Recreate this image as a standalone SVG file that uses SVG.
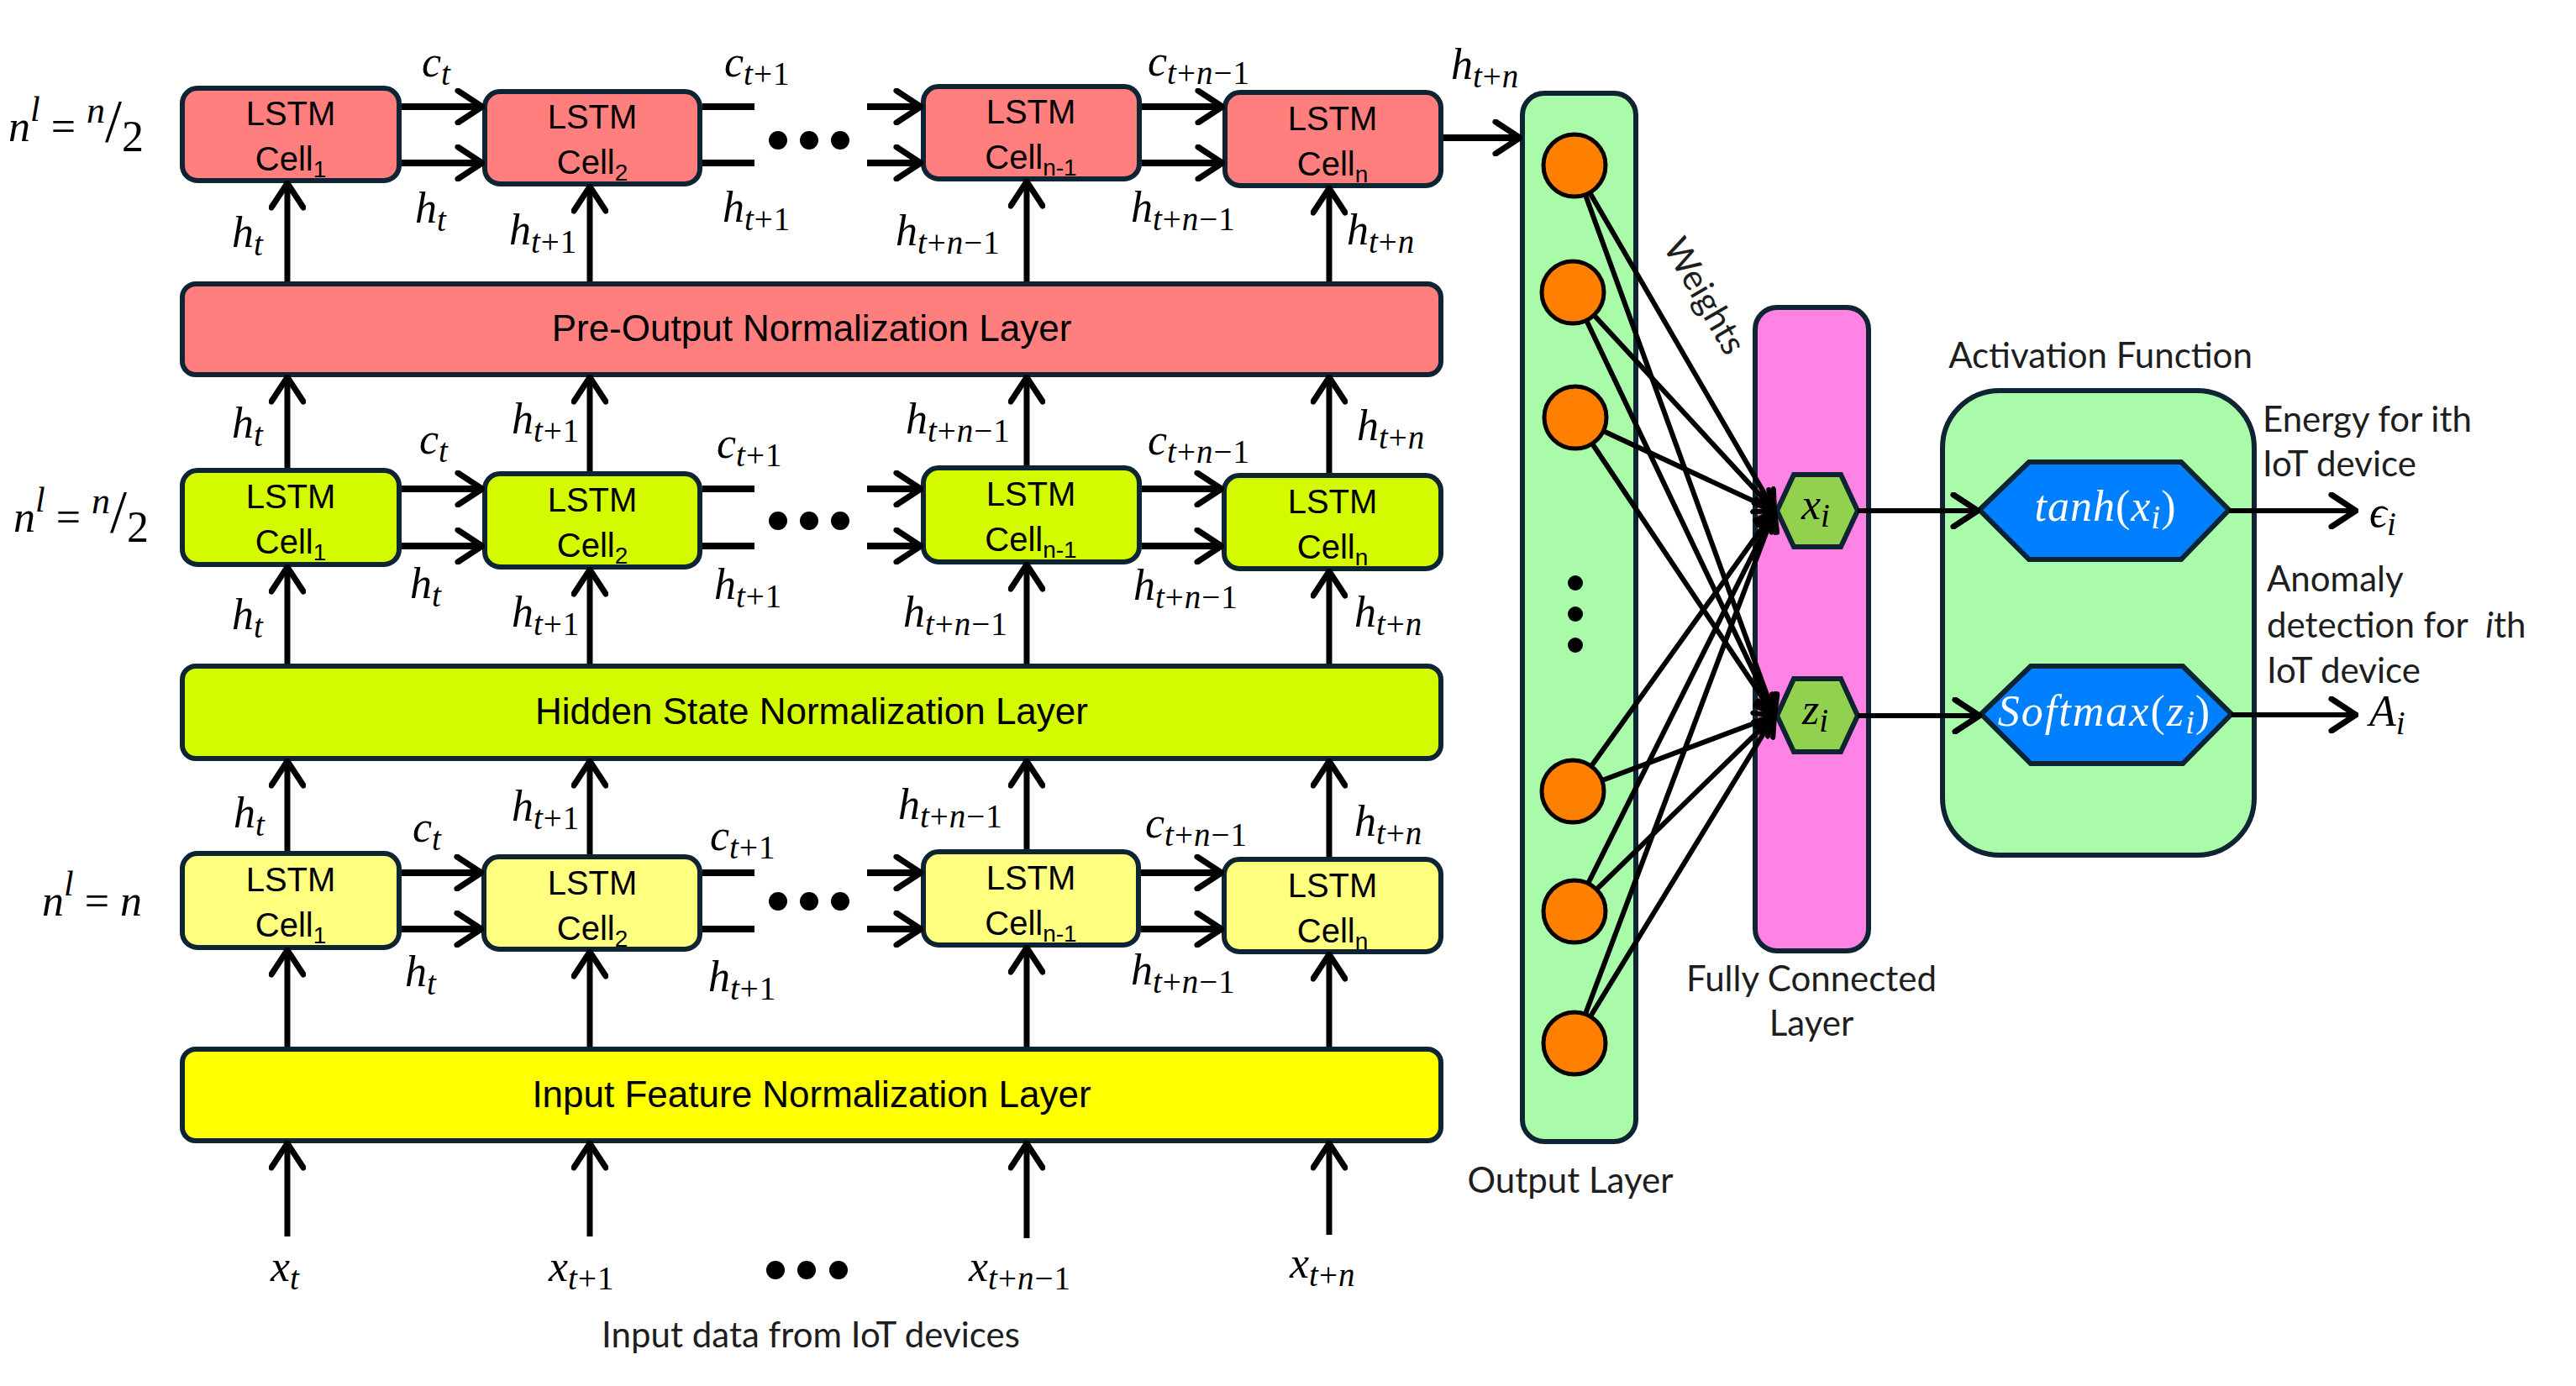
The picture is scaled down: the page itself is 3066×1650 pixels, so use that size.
<svg xmlns="http://www.w3.org/2000/svg" width="3066" height="1650" viewBox="0 0 3066 1650">
<defs>
<style>
.bx{stroke:#0E2433;stroke-width:6}
.red{fill:#FF7F7E}.lime{fill:#D4FA00}.ly{fill:#FFFF80}.yel{fill:#FFFF00}
.gr{fill:#A9FAA9}.pk{fill:#FF82E4}
.ct{font-family:"Liberation Sans",Arial,sans-serif;font-size:40px;text-anchor:middle;fill:#000}
.lt{font-family:"Liberation Sans",Arial,sans-serif;font-size:44px;text-anchor:middle;fill:#000}
.sb{font-size:28px}
.m{font-family:"Liberation Serif","Times New Roman",serif;font-style:italic;font-size:52px;fill:#000}
.s{font-size:39px;letter-spacing:1px}
.u{font-style:normal}
.lb{font-family:Lato,"Open Sans",sans-serif;font-size:42px;fill:#1E1E1E}
.ln{stroke:#000;stroke-width:7;fill:none}
.hz{stroke:#000;stroke-width:8;fill:none}
.w{stroke:#000;stroke-width:6;fill:none}
.dot{fill:#000}
</style>
<marker id="ah" viewBox="0 0 36 44" refX="33" refY="22" markerWidth="36" markerHeight="44" orient="auto" markerUnits="userSpaceOnUse">
<path d="M4,3 L33,22 L4,41" fill="none" stroke="#000" stroke-width="7" stroke-linecap="round"/>
</marker>
<marker id="as" viewBox="0 0 28 30" refX="26" refY="15" markerWidth="28" markerHeight="30" orient="auto" markerUnits="userSpaceOnUse">
<path d="M3,3 L26,15 L3,27" fill="none" stroke="#000" stroke-width="6" stroke-linecap="round"/>
</marker>
</defs>
<rect width="3066" height="1650" fill="#fff"/>

<!-- Top row (n/2) -->
<g id="top-cell1"><rect class="bx red" x="217" y="105" width="258" height="110" rx="18"/><text class="ct" x="346" y="149">LSTM</text><text class="ct" x="346" y="203">Cell<tspan class="sb" dy="8">1</tspan></text></g>
<g id="top-cell2"><rect class="bx red" x="577" y="109" width="256" height="110" rx="18"/><text class="ct" x="705" y="153">LSTM</text><text class="ct" x="705" y="207">Cell<tspan class="sb" dy="8">2</tspan></text></g>
<g id="top-celln1"><rect class="bx red" x="1099" y="103" width="257" height="110" rx="18"/><text class="ct" x="1227" y="147">LSTM</text><text class="ct" x="1227" y="201">Cell<tspan class="sb" dy="8">n-1</tspan></text></g>
<g id="top-celln"><rect class="bx red" x="1458" y="110" width="257" height="111" rx="18"/><text class="ct" x="1586" y="155">LSTM</text><text class="ct" x="1586" y="209">Cell<tspan class="sb" dy="8">n</tspan></text></g>
<g id="pre-output"><rect class="bx red" x="217" y="338" width="1498" height="108" rx="16"/><text class="lt" x="966" y="406">Pre-Output Normalization Layer</text></g>

<!-- Middle row -->
<g id="mid-cell1"><rect class="bx lime" x="217" y="560" width="258" height="112" rx="18"/><text class="ct" x="346" y="605">LSTM</text><text class="ct" x="346" y="659">Cell<tspan class="sb" dy="8">1</tspan></text></g>
<g id="mid-cell2"><rect class="bx lime" x="577" y="564" width="256" height="111" rx="18"/><text class="ct" x="705" y="609">LSTM</text><text class="ct" x="705" y="663">Cell<tspan class="sb" dy="8">2</tspan></text></g>
<g id="mid-celln1"><rect class="bx lime" x="1099" y="557" width="257" height="112" rx="18"/><text class="ct" x="1227" y="602">LSTM</text><text class="ct" x="1227" y="656">Cell<tspan class="sb" dy="8">n-1</tspan></text></g>
<g id="mid-celln"><rect class="bx lime" x="1457" y="566" width="258" height="111" rx="18"/><text class="ct" x="1586" y="611">LSTM</text><text class="ct" x="1586" y="665">Cell<tspan class="sb" dy="8">n</tspan></text></g>
<g id="hidden-state"><rect class="bx lime" x="217" y="793" width="1498" height="110" rx="16"/><text class="lt" x="966" y="862">Hidden State Normalization Layer</text></g>

<!-- Bottom row -->
<g id="bot-cell1"><rect class="bx ly" x="217" y="1016" width="258" height="112" rx="18"/><text class="ct" x="346" y="1061">LSTM</text><text class="ct" x="346" y="1115">Cell<tspan class="sb" dy="8">1</tspan></text></g>
<g id="bot-cell2"><rect class="bx ly" x="576" y="1020" width="257" height="110" rx="18"/><text class="ct" x="705" y="1065">LSTM</text><text class="ct" x="705" y="1119">Cell<tspan class="sb" dy="8">2</tspan></text></g>
<g id="bot-celln1"><rect class="bx ly" x="1099" y="1014" width="256" height="111" rx="18"/><text class="ct" x="1227" y="1059">LSTM</text><text class="ct" x="1227" y="1113">Cell<tspan class="sb" dy="8">n-1</tspan></text></g>
<g id="bot-celln"><rect class="bx ly" x="1457" y="1023" width="258" height="110" rx="18"/><text class="ct" x="1586" y="1068">LSTM</text><text class="ct" x="1586" y="1122">Cell<tspan class="sb" dy="8">n</tspan></text></g>
<g id="input-feature"><rect class="bx yel" x="217" y="1249" width="1498" height="109" rx="16"/><text class="lt" x="966" y="1318">Input Feature Normalization Layer</text></g>

<!-- Output layer -->
<g id="output-layer">
<rect class="bx gr" x="1812" y="111" width="135" height="1248" rx="26"/>
<circle cx="1874" cy="197" r="37" fill="#FF7F00" stroke="#000" stroke-width="5"/>
<circle cx="1872" cy="348" r="37" fill="#FF7F00" stroke="#000" stroke-width="5"/>
<circle cx="1875" cy="497" r="37" fill="#FF7F00" stroke="#000" stroke-width="5"/>
<circle cx="1872" cy="942" r="37" fill="#FF7F00" stroke="#000" stroke-width="5"/>
<circle cx="1874" cy="1085" r="37" fill="#FF7F00" stroke="#000" stroke-width="5"/>
<circle cx="1874" cy="1242" r="37" fill="#FF7F00" stroke="#000" stroke-width="5"/>
<circle class="dot" cx="1875" cy="694" r="9"/><circle class="dot" cx="1875" cy="731" r="9"/><circle class="dot" cx="1875" cy="768" r="9"/>
<text class="lb" x="1869" y="1420" text-anchor="middle">Output Layer</text>
</g>

<!-- Fully connected layer -->
<g id="fc-layer">
<rect class="bx pk" x="2089" y="366" width="135" height="766" rx="26"/>
<text class="lb" x="2156" y="1180" text-anchor="middle">Fully Connected</text>
<text class="lb" x="2156" y="1233" text-anchor="middle">Layer</text>
</g>
<g id="hex-xi"><polygon class="bx" fill="#92D050" points="2115,608 2135,565 2191,565 2211,608 2191,651 2135,651" stroke-width="5"/><text class="m" x="2144" y="618" font-size="48">x<tspan class="s" dy="9" font-size="35">i</tspan></text></g>
<g id="hex-zi"><polygon class="bx" fill="#92D050" points="2115,852 2135,808 2191,808 2211,852 2191,895 2135,895" stroke-width="5"/><text class="m" x="2145" y="862" font-size="48">z<tspan class="s" dy="9" font-size="35">i</tspan></text></g>

<!-- Activation function -->
<g id="activation">
<rect class="bx gr" x="2312" y="465" width="371" height="553" rx="68"/>
<text class="lb" x="2500" y="438" text-anchor="middle">Activation Function</text>
</g>
<g id="tanh"><polygon class="bx" fill="#0080FF" points="2356,607 2415,550 2596,550 2653,607 2596,666 2415,666" stroke-width="5"/><text class="m" x="2506" y="620" text-anchor="middle" style="fill:#fff" font-size="52" letter-spacing="1">tanh<tspan class="u">(</tspan>x<tspan class="s" dy="9">i</tspan><tspan class="u" dy="-9">)</tspan></text></g>
<g id="softmax"><polygon class="bx" fill="#0080FF" points="2358,850 2417,793 2598,793 2656,850 2598,909 2417,909" stroke-width="5"/><text class="m" x="2505" y="864" text-anchor="middle" style="fill:#fff" font-size="52" letter-spacing="2">Softmax<tspan class="u">(</tspan>z<tspan class="s" dy="9">i</tspan><tspan class="u" dy="-9">)</tspan></text></g>

<g id="out-labels">
<text class="lb" x="2693" y="514">Energy for ith</text>
<text class="lb" x="2693" y="567">IoT device</text>
<text class="lb" x="2698" y="704">Anomaly</text>
<text class="lb" x="2698" y="759">detection for&#160; <tspan font-style="italic">i</tspan>th</text>
<text class="lb" x="2698" y="813">IoT device</text>
<text class="m" x="2820" y="627">ϵ<tspan class="s" dy="10">i</tspan></text>
<text class="m" x="2820" y="864">A<tspan class="s" dy="10">i</tspan></text>
</g>

<!-- Left labels -->
<g id="level-labels">
<text class="m" x="10" y="168" font-size="60">n<tspan dy="-24" font-size="42">l</tspan><tspan class="u" dy="24"> = </tspan><tspan dy="-22" font-size="44">n</tspan><tspan class="u" dy="22" font-size="72">/</tspan><tspan class="u" dy="12" font-size="52">2</tspan></text>
<text class="m" x="16" y="633" font-size="60">n<tspan dy="-24" font-size="42">l</tspan><tspan class="u" dy="24"> = </tspan><tspan dy="-22" font-size="44">n</tspan><tspan class="u" dy="22" font-size="72">/</tspan><tspan class="u" dy="12" font-size="52">2</tspan></text>
<text class="m" x="50" y="1090" font-size="60">n<tspan dy="-24" font-size="42">l</tspan><tspan class="u" dy="24"> = </tspan>n</text>
</g>

<!-- Math labels -->
<g id="state-labels">
<!-- top row -->
<text class="m" x="502" y="91">c<tspan class="s" dy="10">t</tspan></text>
<text class="m" x="862" y="91">c<tspan class="s" dy="10">t<tspan class="u">+1</tspan></tspan></text>
<text class="m" x="1366" y="90">c<tspan class="s" dy="10">t<tspan class="u">+</tspan>n<tspan class="u">−1</tspan></tspan></text>
<text class="m" x="1727" y="94">h<tspan class="s" dy="10">t<tspan class="u">+</tspan>n</tspan></text>
<text class="m" x="494" y="265">h<tspan class="s" dy="10">t</tspan></text>
<text class="m" x="860" y="264">h<tspan class="s" dy="10">t<tspan class="u">+1</tspan></tspan></text>
<text class="m" x="1346" y="264">h<tspan class="s" dy="10">t<tspan class="u">+</tspan>n<tspan class="u">−1</tspan></tspan></text>
<text class="m" x="276" y="294">h<tspan class="s" dy="10">t</tspan></text>
<text class="m" x="606" y="291">h<tspan class="s" dy="10">t<tspan class="u">+1</tspan></tspan></text>
<text class="m" x="1066" y="292">h<tspan class="s" dy="10">t<tspan class="u">+</tspan>n<tspan class="u">−1</tspan></tspan></text>
<text class="m" x="1603" y="291">h<tspan class="s" dy="10">t<tspan class="u">+</tspan>n</tspan></text>
<!-- middle row -->
<text class="m" x="276" y="521">h<tspan class="s" dy="10">t</tspan></text>
<text class="m" x="609" y="516">h<tspan class="s" dy="10">t<tspan class="u">+1</tspan></tspan></text>
<text class="m" x="1078" y="516">h<tspan class="s" dy="10">t<tspan class="u">+</tspan>n<tspan class="u">−1</tspan></tspan></text>
<text class="m" x="1615" y="524">h<tspan class="s" dy="10">t<tspan class="u">+</tspan>n</tspan></text>
<text class="m" x="499" y="540">c<tspan class="s" dy="10">t</tspan></text>
<text class="m" x="853" y="545">c<tspan class="s" dy="10">t<tspan class="u">+1</tspan></tspan></text>
<text class="m" x="1366" y="541">c<tspan class="s" dy="10">t<tspan class="u">+</tspan>n<tspan class="u">−1</tspan></tspan></text>
<text class="m" x="488" y="712">h<tspan class="s" dy="10">t</tspan></text>
<text class="m" x="850" y="713">h<tspan class="s" dy="10">t<tspan class="u">+1</tspan></tspan></text>
<text class="m" x="1349" y="714">h<tspan class="s" dy="10">t<tspan class="u">+</tspan>n<tspan class="u">−1</tspan></tspan></text>
<text class="m" x="276" y="749">h<tspan class="s" dy="10">t</tspan></text>
<text class="m" x="609" y="746">h<tspan class="s" dy="10">t<tspan class="u">+1</tspan></tspan></text>
<text class="m" x="1075" y="746">h<tspan class="s" dy="10">t<tspan class="u">+</tspan>n<tspan class="u">−1</tspan></tspan></text>
<text class="m" x="1612" y="746">h<tspan class="s" dy="10">t<tspan class="u">+</tspan>n</tspan></text>
<!-- bottom row -->
<text class="m" x="278" y="985">h<tspan class="s" dy="10">t</tspan></text>
<text class="m" x="609" y="977">h<tspan class="s" dy="10">t<tspan class="u">+1</tspan></tspan></text>
<text class="m" x="1069" y="975">h<tspan class="s" dy="10">t<tspan class="u">+</tspan>n<tspan class="u">−1</tspan></tspan></text>
<text class="m" x="1612" y="995">h<tspan class="s" dy="10">t<tspan class="u">+</tspan>n</tspan></text>
<text class="m" x="491" y="1002">c<tspan class="s" dy="10">t</tspan></text>
<text class="m" x="845" y="1012">c<tspan class="s" dy="10">t<tspan class="u">+1</tspan></tspan></text>
<text class="m" x="1363" y="997">c<tspan class="s" dy="10">t<tspan class="u">+</tspan>n<tspan class="u">−1</tspan></tspan></text>
<text class="m" x="482" y="1174">h<tspan class="s" dy="10">t</tspan></text>
<text class="m" x="843" y="1180">h<tspan class="s" dy="10">t<tspan class="u">+1</tspan></tspan></text>
<text class="m" x="1346" y="1172">h<tspan class="s" dy="10">t<tspan class="u">+</tspan>n<tspan class="u">−1</tspan></tspan></text>
<!-- inputs -->
<text class="m" x="322" y="1525">x<tspan class="s" dy="10">t</tspan></text>
<text class="m" x="653" y="1525">x<tspan class="s" dy="10">t<tspan class="u">+1</tspan></tspan></text>
<text class="m" x="1153" y="1525">x<tspan class="s" dy="10">t<tspan class="u">+</tspan>n<tspan class="u">−1</tspan></tspan></text>
<text class="m" x="1535" y="1521">x<tspan class="s" dy="10">t<tspan class="u">+</tspan>n</tspan></text>
<text class="lb" x="965" y="1604" text-anchor="middle">Input data from IoT devices</text>
<text class="lb" x="2028" y="366" text-anchor="middle" font-size="37" transform="rotate(60 2028 353)">Weights</text>
</g>

<!-- ellipses -->
<g id="ellipses">
<circle class="dot" cx="926" cy="167" r="11"/><circle class="dot" cx="963" cy="167" r="11"/><circle class="dot" cx="1000" cy="167" r="11"/>
<circle class="dot" cx="926" cy="620" r="11"/><circle class="dot" cx="963" cy="620" r="11"/><circle class="dot" cx="1000" cy="620" r="11"/>
<circle class="dot" cx="926" cy="1073" r="11"/><circle class="dot" cx="963" cy="1073" r="11"/><circle class="dot" cx="1000" cy="1073" r="11"/>
<circle class="dot" cx="923" cy="1512" r="11"/><circle class="dot" cx="960" cy="1512" r="11"/><circle class="dot" cx="998" cy="1512" r="11"/>
</g>

<g id="connectors">
<!-- inputs to input layer -->
<line class="ln" x1="342" y1="1472" x2="342" y2="1361" marker-end="url(#ah)"/>
<line class="ln" x1="702" y1="1472" x2="702" y2="1361" marker-end="url(#ah)"/>
<line class="ln" x1="1222" y1="1474" x2="1222" y2="1361" marker-end="url(#ah)"/>
<line class="ln" x1="1582" y1="1470" x2="1582" y2="1361" marker-end="url(#ah)"/>
<!-- input layer to bottom cells -->
<line class="ln" x1="342" y1="1246" x2="342" y2="1131" marker-end="url(#ah)"/>
<line class="ln" x1="702" y1="1246" x2="702" y2="1133" marker-end="url(#ah)"/>
<line class="ln" x1="1222" y1="1246" x2="1222" y2="1128" marker-end="url(#ah)"/>
<line class="ln" x1="1582" y1="1246" x2="1582" y2="1136" marker-end="url(#ah)"/>
<!-- bottom cells to hidden -->
<line class="ln" x1="342" y1="1013" x2="342" y2="906" marker-end="url(#ah)"/>
<line class="ln" x1="702" y1="1017" x2="702" y2="906" marker-end="url(#ah)"/>
<line class="ln" x1="1222" y1="1011" x2="1222" y2="906" marker-end="url(#ah)"/>
<line class="ln" x1="1582" y1="1020" x2="1582" y2="906" marker-end="url(#ah)"/>
<!-- hidden to middle cells -->
<line class="ln" x1="342" y1="790" x2="342" y2="675" marker-end="url(#ah)"/>
<line class="ln" x1="702" y1="790" x2="702" y2="678" marker-end="url(#ah)"/>
<line class="ln" x1="1222" y1="790" x2="1222" y2="672" marker-end="url(#ah)"/>
<line class="ln" x1="1582" y1="790" x2="1582" y2="680" marker-end="url(#ah)"/>
<!-- middle cells to pre-output -->
<line class="ln" x1="342" y1="557" x2="342" y2="449" marker-end="url(#ah)"/>
<line class="ln" x1="702" y1="561" x2="702" y2="449" marker-end="url(#ah)"/>
<line class="ln" x1="1222" y1="554" x2="1222" y2="449" marker-end="url(#ah)"/>
<line class="ln" x1="1582" y1="563" x2="1582" y2="449" marker-end="url(#ah)"/>
<!-- pre-output to top cells -->
<line class="ln" x1="342" y1="335" x2="342" y2="218" marker-end="url(#ah)"/>
<line class="ln" x1="702" y1="335" x2="702" y2="222" marker-end="url(#ah)"/>
<line class="ln" x1="1222" y1="335" x2="1222" y2="216" marker-end="url(#ah)"/>
<line class="ln" x1="1582" y1="335" x2="1582" y2="224" marker-end="url(#ah)"/>

<!-- top row horizontals -->
<line class="hz" x1="478" y1="127" x2="574" y2="127" marker-end="url(#ah)"/>
<line class="hz" x1="478" y1="194" x2="574" y2="194" marker-end="url(#ah)"/>
<line class="hz" x1="836" y1="127" x2="898" y2="127"/>
<line class="hz" x1="836" y1="194" x2="898" y2="194"/>
<line class="hz" x1="1032" y1="127" x2="1096" y2="127" marker-end="url(#ah)"/>
<line class="hz" x1="1032" y1="194" x2="1096" y2="194" marker-end="url(#ah)"/>
<line class="hz" x1="1359" y1="127" x2="1455" y2="127" marker-end="url(#ah)"/>
<line class="hz" x1="1359" y1="194" x2="1455" y2="194" marker-end="url(#ah)"/>
<line class="hz" x1="1718" y1="164" x2="1809" y2="164" marker-end="url(#ah)"/>
<!-- middle row horizontals -->
<line class="hz" x1="478" y1="582" x2="574" y2="582" marker-end="url(#ah)"/>
<line class="hz" x1="478" y1="650" x2="574" y2="650" marker-end="url(#ah)"/>
<line class="hz" x1="836" y1="582" x2="898" y2="582"/>
<line class="hz" x1="836" y1="650" x2="898" y2="650"/>
<line class="hz" x1="1032" y1="582" x2="1096" y2="582" marker-end="url(#ah)"/>
<line class="hz" x1="1032" y1="650" x2="1096" y2="650" marker-end="url(#ah)"/>
<line class="hz" x1="1359" y1="582" x2="1454" y2="582" marker-end="url(#ah)"/>
<line class="hz" x1="1359" y1="650" x2="1454" y2="650" marker-end="url(#ah)"/>
<!-- bottom row horizontals -->
<line class="hz" x1="478" y1="1039" x2="573" y2="1039" marker-end="url(#ah)"/>
<line class="hz" x1="478" y1="1106" x2="573" y2="1106" marker-end="url(#ah)"/>
<line class="hz" x1="836" y1="1039" x2="898" y2="1039"/>
<line class="hz" x1="836" y1="1106" x2="898" y2="1106"/>
<line class="hz" x1="1032" y1="1039" x2="1096" y2="1039" marker-end="url(#ah)"/>
<line class="hz" x1="1032" y1="1106" x2="1096" y2="1106" marker-end="url(#ah)"/>
<line class="hz" x1="1358" y1="1039" x2="1454" y2="1039" marker-end="url(#ah)"/>
<line class="hz" x1="1358" y1="1106" x2="1454" y2="1106" marker-end="url(#ah)"/>

<!-- weights -->
<line class="w" x1="1892" y1="229" x2="2112" y2="608" marker-end="url(#as)"/>
<line class="w" x1="1887" y1="232" x2="2112" y2="852" marker-end="url(#as)"/>
<line class="w" x1="1897" y1="375" x2="2112" y2="608" marker-end="url(#as)"/>
<line class="w" x1="1888" y1="381" x2="2112" y2="852" marker-end="url(#as)"/>
<line class="w" x1="1908" y1="513" x2="2112" y2="608" marker-end="url(#as)"/>
<line class="w" x1="1895" y1="528" x2="2112" y2="852" marker-end="url(#as)"/>
<line class="w" x1="1894" y1="912" x2="2112" y2="608" marker-end="url(#as)"/>
<line class="w" x1="1907" y1="929" x2="2112" y2="852" marker-end="url(#as)"/>
<line class="w" x1="1890" y1="1052" x2="2112" y2="608" marker-end="url(#as)"/>
<line class="w" x1="1900" y1="1059" x2="2112" y2="852" marker-end="url(#as)"/>
<line class="w" x1="1887" y1="1207" x2="2112" y2="608" marker-end="url(#as)"/>
<line class="w" x1="1893" y1="1210" x2="2112" y2="852" marker-end="url(#as)"/>

<!-- FC to activation -->
<line class="w" x1="2211" y1="608" x2="2354" y2="608" marker-end="url(#ah)"/>
<line class="w" x1="2211" y1="852" x2="2356" y2="852" marker-end="url(#ah)"/>
<!-- outputs -->
<line class="w" x1="2653" y1="608" x2="2804" y2="608" marker-end="url(#ah)"/>
<line class="w" x1="2656" y1="851" x2="2804" y2="851" marker-end="url(#ah)"/>
</g>
</svg>
